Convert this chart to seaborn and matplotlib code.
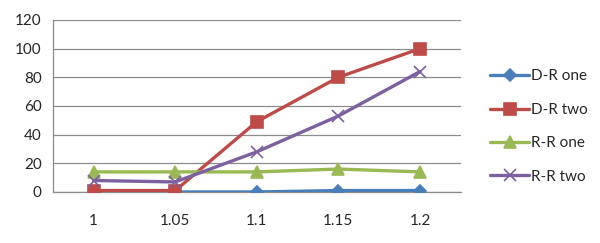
import numpy as np
import pandas as pd
import matplotlib
matplotlib.use('Agg')
import matplotlib.pyplot as plt
import seaborn as sns

# data
categories = ['1', '1.05', '1.1', '1.15', '1.2']
dr_one = [0, 0, 0, 1, 1]
dr_two = [1, 1, 49, 80, 100]
rr_one = [14, 14, 14, 16, 14]
rr_two = [8, 7, 28, 53, 84]
series_names = ['D-R one', 'D-R two', 'R-R one', 'R-R two']

df = pd.DataFrame({'x': categories, 'D-R one': dr_one, 'D-R two': dr_two,
                   'R-R one': rr_one, 'R-R two': rr_two})
df = df.melt(id_vars='x', var_name='series', value_name='value')

sns.set_style('white')
plt.rcParams['font.family'] = ['Lato', 'DejaVu Sans']

colors = ['#4A7EBB', '#BE4B48', '#98B954', '#7D60A0']
markers = ['D', 's', '^', 'x']
msizes = [6, 8.5, 8, 8]

fig = plt.figure(figsize=(6, 2.43), dpi=100)
ax = fig.add_axes([0.088, 0.21, 0.68, 0.708])

for name, c, m, ms in zip(series_names, colors, markers, msizes):
    sub = df[df['series'] == name]
    sns.lineplot(data=sub, x='x', y='value', ax=ax, color=c, marker=m,
                 markersize=ms, linewidth=2.4, markeredgecolor=c,
                 markeredgewidth=1.2, label=name, sort=False)

ax.set_xlim(-0.5, 4.5)
ax.set_ylim(0, 120)
ax.set_yticks(np.arange(0, 121, 20))
ax.yaxis.grid(True, color='#8C8C8C', linewidth=0.9)
ax.set_axisbelow(True)
ax.set_xticks(np.arange(-0.5, 4.6, 1), minor=True)
ax.tick_params(axis='x', which='major', length=0, pad=16, labelsize=11)
ax.tick_params(axis='x', which='minor', length=5, color='#8C8C8C', direction='out')
ax.tick_params(axis='y', length=5, color='#8C8C8C', direction='out', labelsize=11, pad=3)
ax.set_xlabel('')
ax.set_ylabel('')
for s in ['top', 'right']:
    ax.spines[s].set_visible(False)
for s in ['left', 'bottom']:
    ax.spines[s].set_color('#8C8C8C')
    ax.spines[s].set_linewidth(0.9)
ax.spines['bottom'].set_zorder(0.5)

ax.legend(loc='center left', bbox_to_anchor=(1.038, 0.38), frameon=False,
          fontsize=11, handlelength=2.55, handletextpad=0.15, labelspacing=1.27)

fig.savefig('out.png', dpi=100)
